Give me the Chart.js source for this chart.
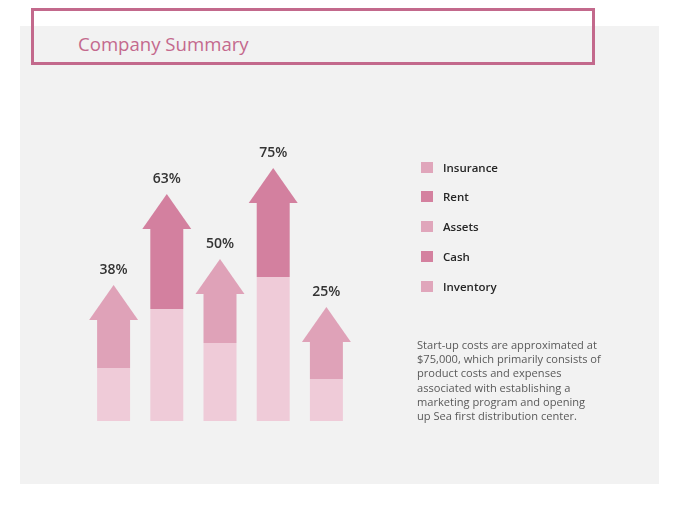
<!DOCTYPE html>
<html>
<head>
<meta charset="utf-8">
<script src="https://cdn.jsdelivr.net/npm/chart.js@4"></script>
<style>
  html, body { margin:0; padding:0; background:#ffffff; width:680px; height:510px; overflow:hidden; font-family:"Open Sans", sans-serif; }
  #panel { position:absolute; left:20px; top:26px; width:639px; height:458px; background:#f2f2f2; }
  #titlebox { position:absolute; left:31px; top:8px; width:558px; height:51px; border:3px solid #c3698c; }
  #title { position:absolute; left:78px; top:30px; font-size:18.6px; color:#c4698d; line-height:28px; white-space:nowrap; }
  #chart { position:absolute; left:0; top:0; }
  .leg { position:absolute; left:421px; height:12px; font-size:11.5px; font-weight:600; color:#262626; white-space:nowrap; }
  .leg i { position:absolute; left:0; top:0; width:12px; height:11px; }
  .leg span { position:absolute; left:22px; top:-4px; line-height:20px; }
  #para { position:absolute; left:417px; top:338px; font-size:11.1px; line-height:14.2px; color:#595959; white-space:nowrap; }
</style>
</head>
<body>
<div id="panel"></div>
<div id="titlebox"></div>
<div id="title">Company Summary</div>
<canvas id="chart" width="680" height="510"></canvas>
<div id="legend"></div>
<div id="para"></div>
<script>
// ---- data ----
const categories = ['Arrow 1', 'Arrow 2', 'Arrow 3', 'Arrow 4', 'Arrow 5'];
const percentLabels = ['38%', '63%', '50%', '75%', '25%'];
const baseValues = [53, 112, 78, 144, 42];
const upperValues = [48, 80, 49, 74, 37];
const headValues = [35, 35, 35, 35, 35];
const legendLabels = ['Insurance', 'Rent', 'Assets', 'Cash', 'Inventory'];
const paragraphLines = [
  'Start-up costs are approximated at',
  '$75,000, which primarily consists of',
  'product costs and expenses',
  'associated with establishing a',
  'marketing program and opening',
  'up Sea first distribution center.'
];

const lightPink = '#efcbd8';
const midPink = '#dfa2b8';
const darkPink = '#d3809f';
const upperColors = [midPink, darkPink, midPink, darkPink, midPink];
const legendColors = ['#e0a6bb', '#d4819f', '#e0a6bb', '#d4819f', '#e0a6bb'];

// ---- arrow head + label plugin ----
const arrowPlugin = {
  id: 'arrowHeads',
  afterDatasetsDraw(chart) {
    const ctx = chart.ctx;
    const meta = chart.getDatasetMeta(2);
    meta.data.forEach((el, i) => {
      const p = el.getProps(['x', 'y', 'base', 'width'], true);
      const half = p.width * 1.485 / 2;
      ctx.save();
      ctx.fillStyle = upperColors[i];
      ctx.beginPath();
      ctx.moveTo(p.x - half, p.base);
      ctx.lineTo(p.x + half, p.base);
      ctx.lineTo(p.x, p.y);
      ctx.closePath();
      ctx.fill();
      ctx.fillStyle = '#333333';
      ctx.font = '600 14px "Open Sans", sans-serif';
      ctx.textAlign = 'center';
      ctx.textBaseline = 'middle';
      ctx.fillText(percentLabels[i], p.x, p.y - 15);
      ctx.restore();
    });
  }
};

new Chart(document.getElementById('chart'), {
  type: 'bar',
  data: {
    labels: categories,
    datasets: [
      { data: baseValues, backgroundColor: lightPink },
      { data: upperValues, backgroundColor: upperColors },
      { data: headValues, backgroundColor: 'rgba(0,0,0,0)' }
    ]
  },
  options: {
    responsive: false,
    animation: false,
    devicePixelRatio: 1,
    layout: { padding: { left: 87, right: 327, top: 121, bottom: 89 } },
    datasets: { bar: { categoryPercentage: 1, barPercentage: 0.62, borderWidth: 0 } },
    scales: {
      x: { stacked: true, display: false },
      y: { stacked: true, display: false, min: 0, max: 300 }
    },
    plugins: { legend: { display: false }, tooltip: { enabled: false } }
  },
  plugins: [arrowPlugin]
});

// ---- legend & text ----
const legendTops = [162, 191, 221, 251, 281];
const legend = document.getElementById('legend');
legendLabels.forEach((t, i) => {
  const d = document.createElement('div');
  d.className = 'leg';
  d.style.top = legendTops[i] + 'px';
  d.innerHTML = '<i style="background:' + legendColors[i] + '"></i><span>' + t + '</span>';
  legend.appendChild(d);
});
document.getElementById('para').innerHTML = paragraphLines.join('<br>');
</script>
</body>
</html>
